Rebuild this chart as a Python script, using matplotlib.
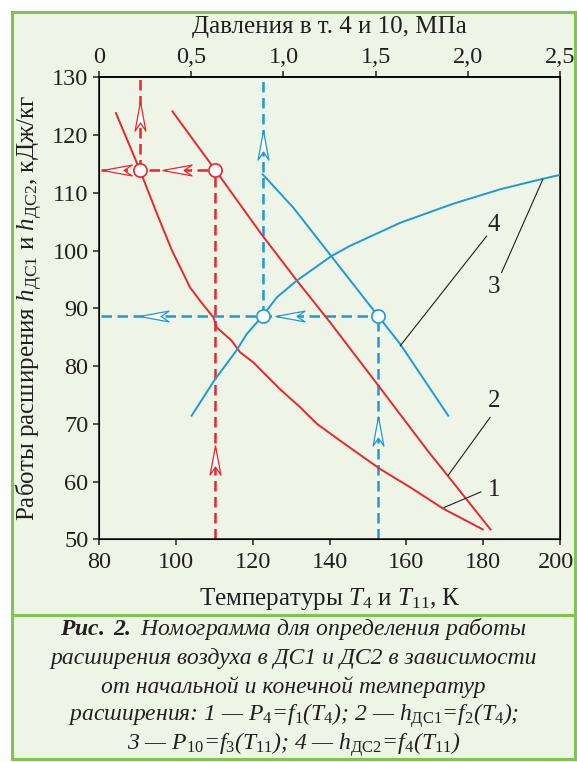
import matplotlib

matplotlib.use("Agg")
import matplotlib.pyplot as plt
import matplotlib.transforms as mtransforms
from matplotlib.path import Path
from matplotlib.patches import Rectangle
from matplotlib.lines import Line2D

plt.rcParams["font.family"] = ["Liberation Serif", "DejaVu Serif"]
plt.rcParams["mathtext.fontset"] = "custom"
plt.rcParams["mathtext.rm"] = "Liberation Serif"
plt.rcParams["mathtext.it"] = "Liberation Serif:italic"
plt.rcParams["mathtext.bf"] = "Liberation Serif:italic:bold"

RED = "#e8262d"
BLUE = "#1d9ad6"
INK = "#231f20"
BG = "#eef5e6"
FRAME = "#80c452"

c1_T = [84.4, 90.6, 95.0, 99.0, 103.7, 106.3, 109.8, 110.6, 114.5, 116.7, 120.2, 127.1,
        132.3, 136.7, 142.7, 153.1, 161.0, 169.6, 179.9]
c1_h = [123.8, 114.0, 106.5, 100.0, 93.6, 91.3, 88.4, 86.7, 84.4, 82.4, 80.6, 76.0,
        72.9, 70.0, 67.1, 62.2, 59.0, 55.3, 51.7]

c2_T = [99.1, 110.2, 122.3, 131.5, 140.1, 152.5, 165.7, 170.9, 181.9]
c2_h = [124.1, 114.0, 102.8, 94.8, 87.6, 76.8, 65.2, 60.9, 51.7]

c3_T = [104.1, 110.2, 115.8, 118.4, 122.6, 126.3, 131.5, 140.4, 145.3, 158.4,
        172.2, 184.4, 194.8, 200.0]
c3_h = [71.4, 77.7, 82.7, 85.5, 88.7, 91.9, 94.8, 99.0, 100.8, 104.8,
        108.1, 110.6, 112.3, 113.1]

c4_T = [122.6, 130.6, 140.6, 152.6, 158.4, 170.9]
c4_h = [113.2, 107.4, 98.9, 88.7, 83.8, 71.4]

# ---- ключи (пунктир) ----
red_h = 114.0
red_T = [90.6, 110.2]
blue_h = 88.7
blue_T = [122.6, 152.6]

# стрелки: центры
red_left_T = [84.6, 100.4]
blue_left_T = [94.2, 129.7]
red_up = [(90.6, 123.3), (110.2, 63.8)]
blue_up = [(122.6, 118.2), (152.6, 68.8)]

# номера кривых и выноски
num_text = ["1", "2", "3", "4"]
num_xy = [(182.9, 58.5), (182.9, 74.0), (182.9, 93.7), (182.7, 104.4)]
lead_from = [(179.4, 58.2), (181.8, 71.1), (184.8, 96.2), (180.9, 102.5)]
lead_to = [(169.8, 55.5), (170.9, 61.1), (195.5, 112.3), (158.4, 83.5)]

x_ticks = [80, 100, 120, 140, 160, 180, 200]
y_ticks = [50, 60, 70, 80, 90, 100, 110, 120, 130]
p_ticks = [0, 0.5, 1.0, 1.5, 2.0, 2.5]
p_labels = ["0", "0,5", "1,0", "1,5", "2,0", "2,5"]

caption = [
    r"$\mathbf{Рис.\ 2.}$ Номограмма для определения работы",
    "расширения воздуха в ДС1 и ДС2 в зависимости",
    "от начальной и конечной температур",
    r"расширения: 1 — $P_{\mathrm{4}}$=$f_{\mathrm{1}}$($T_{\mathrm{4}}$); "
    r"2 — $h_{\mathrm{ДС1}}$=$f_{\mathrm{2}}$($T_{\mathrm{4}}$);",
    r"3 — $P_{\mathrm{10}}$=$f_{\mathrm{3}}$($T_{\mathrm{11}}$); "
    r"4 — $h_{\mathrm{ДС2}}$=$f_{\mathrm{4}}$($T_{\mathrm{11}}$)",
]

# стрелка-«дротик», контур
_dart_left = Path([(-1, 0), (1, 0.37), (0.45, 0), (1, -0.37), (-1, 0)], closed=True)
_dart_up = Path([(0, 1), (0.37, -1), (0, -0.45), (-0.37, -1), (0, 1)], closed=True)

fig = plt.figure(figsize=(5.77, 7.62), dpi=100, facecolor="white")
fig.patches.append(Rectangle((0.0208, 0.0039), 0.9766, 0.9804, transform=fig.transFigure,
                             facecolor=BG, edgecolor=FRAME, linewidth=2.2, zorder=-10))
fig.lines.append(Line2D([0.0208, 0.9974], [0.1929, 0.1929], transform=fig.transFigure,
                        color=FRAME, linewidth=2.2, zorder=-9))

ax = fig.add_axes([0.1716, 0.2923, 0.7990, 0.6063])
ax.set_facecolor("none")
ax.set_xlim(80, 200)
ax.set_ylim(50, 130)

dash = (0, (4.2, 2.2))
ax.plot([80.6, red_T[1]], [red_h, red_h], color=RED, lw=1.8, ls=dash, zorder=2)
ax.plot([red_T[0], red_T[0]], [red_h, 130], color=RED, lw=1.8, ls=dash, zorder=2)
ax.plot([red_T[1], red_T[1]], [50, red_h], color=RED, lw=1.8, ls=dash, zorder=2)
ax.plot([80.6, blue_T[1]], [blue_h, blue_h], color=BLUE, lw=1.8, ls=dash, zorder=2)
ax.plot([blue_T[0], blue_T[0]], [blue_h, 130], color=BLUE, lw=1.8, ls=dash, zorder=2)
ax.plot([blue_T[1], blue_T[1]], [50, blue_h], color=BLUE, lw=1.8, ls=dash, zorder=2)

ax.plot(c1_T, c1_h, color=RED, lw=1.4, zorder=3)
ax.plot(c2_T, c2_h, color=RED, lw=1.4, zorder=3)
ax.plot(c3_T, c3_h, color=BLUE, lw=1.4, zorder=3)
ax.plot(c4_T, c4_h, color=BLUE, lw=1.4, zorder=3)

arrow_kw = dict(ls="none", markersize=21, markerfacecolor="white", markeredgewidth=0.9, zorder=4)
ax.plot(red_left_T, [red_h] * len(red_left_T), marker=_dart_left, markeredgecolor=RED, **arrow_kw)
ax.plot(blue_left_T, [blue_h] * len(blue_left_T), marker=_dart_left, markeredgecolor=BLUE, **arrow_kw)
ax.plot([p[0] for p in red_up], [p[1] for p in red_up], marker=_dart_up, markeredgecolor=RED, **arrow_kw)
ax.plot([p[0] for p in blue_up], [p[1] for p in blue_up], marker=_dart_up, markeredgecolor=BLUE, **arrow_kw)

circ_kw = dict(ls="none", marker="o", markersize=9.5, markerfacecolor="white", markeredgewidth=1.2, zorder=5)
ax.plot(red_T, [red_h] * 2, markeredgecolor=RED, **circ_kw)
ax.plot(blue_T, [blue_h] * 2, markeredgecolor=BLUE, **circ_kw)

for t, xy, a, b in zip(num_text, num_xy, lead_from, lead_to):
    ax.plot([a[0], b[0]], [a[1], b[1]], color=INK, lw=0.8, zorder=3)
    ax.text(xy[0], xy[1], t, fontsize=18, color=INK, ha="center", va="center")

for s in ax.spines.values():
    s.set_color(INK)
    s.set_linewidth(1.2)
ax.set_xticks(x_ticks)
ax.set_yticks(y_ticks)
ax.tick_params(direction="out", length=4.5, width=1.1, color=INK, labelcolor=INK,
               labelsize=17.5, pad=3)
ax.tick_params(axis="x", pad=5)
ax.set_xlabel(r"Температуры $T_{\mathrm{4}}$ и $T_{\mathrm{11}}$, К", fontsize=18,
              color=INK, labelpad=9)
ax.set_ylabel(r"Работы расширения $h_{\mathrm{ДС1}}$ и $h_{\mathrm{ДС2}}$, кДж/кг",
              fontsize=18, color=INK, labelpad=5)

# последняя подпись упирается в рамку — чуть влево
last = ax.get_xticklabels()[-1]
last.set_transform(last.get_transform()
                   + mtransforms.ScaledTranslation(-4 / 100, 0, fig.dpi_scale_trans))

top = ax.twiny()
top.set_xlim(0, 2.5)
top.set_xticks(p_ticks)
top.set_xticklabels(p_labels)
top.tick_params(direction="out", length=4.5, width=1.1, color=INK, labelcolor=INK,
                labelsize=17.5, pad=2.5)
top.spines["top"].set_linewidth(1.2)
top.set_xlabel("Давления в т. 4 и 10, МПа", fontsize=18, color=INK, labelpad=10)

for i, line in enumerate(caption):
    fig.text(0.509, 0.174 - i * 0.0377, line, fontsize=17, fontstyle="italic",
             color=INK, ha="center", va="center")

fig.savefig("out.png", dpi=100, facecolor="white")
